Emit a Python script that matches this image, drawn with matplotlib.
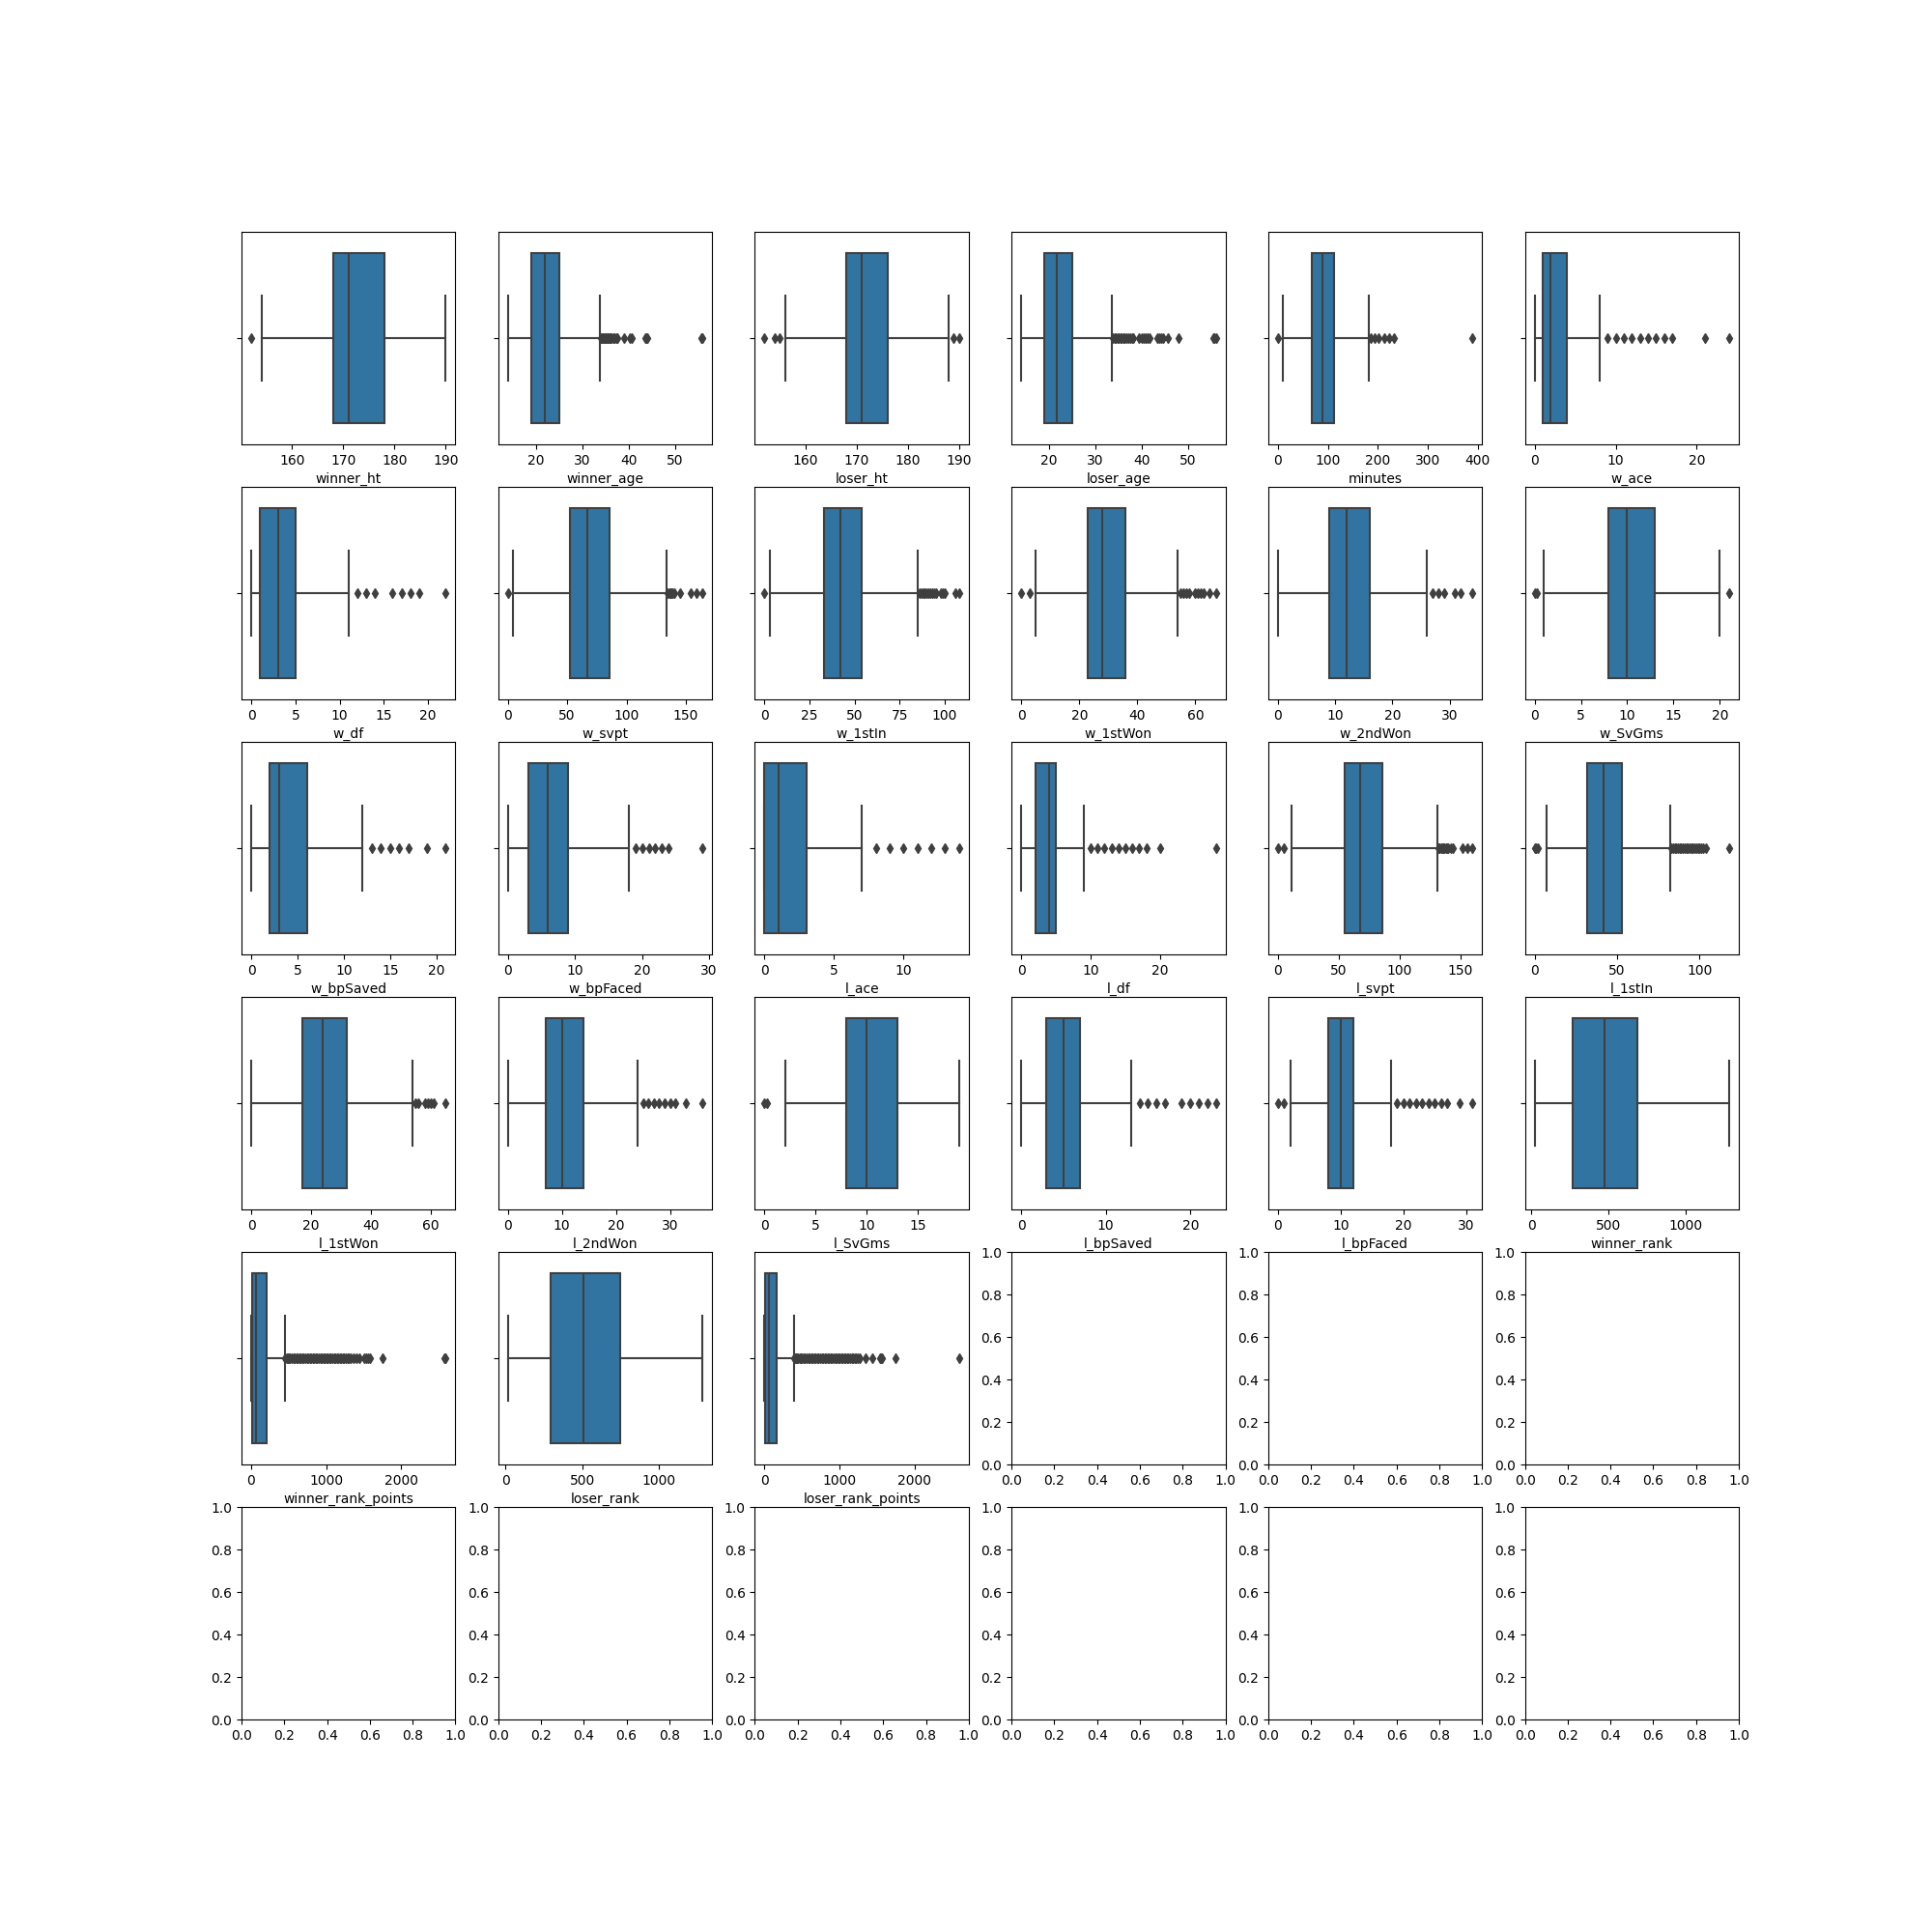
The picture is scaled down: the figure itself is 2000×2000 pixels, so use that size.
import matplotlib
matplotlib.use('Agg')
import matplotlib.pyplot as plt

# Columns shown as horizontal boxplots (summary values)
columns = ['winner_ht', 'winner_age', 'loser_ht', 'loser_age', 'minutes', 'w_ace',
           'w_df', 'w_svpt', 'w_1stIn', 'w_1stWon', 'w_2ndWon', 'w_SvGms',
           'w_bpSaved', 'w_bpFaced', 'l_ace', 'l_df', 'l_svpt', 'l_1stIn',
           'l_1stWon', 'l_2ndWon', 'l_SvGms', 'l_bpSaved', 'l_bpFaced', 'winner_rank',
           'winner_rank_points', 'loser_rank', 'loser_rank_points']

whislo = [154, 14, 156, 14, 10, 0,
          0, 4, 3, 5, 0, 1,
          0, 0, 0, 0, 11, 7,
          0, 0, 2, 0, 2, 20,
          1, 16, 1]
q1 = [168, 19, 168, 19, 68, 1,
      1, 52, 33, 23, 9, 8,
      2, 3, 0, 2, 55, 32,
      17, 7, 8, 3, 8, 266,
      15, 296, 12]
med = [171, 22, 171, 21.6, 89, 2,
       3, 67, 42, 28, 12, 10,
       3, 6, 1, 4, 68, 42,
       24, 10, 10, 5, 10, 477,
       65, 508, 58]
q3 = [178, 25, 176, 24.9, 113, 4,
      5, 86, 54, 36, 16, 13,
      6, 9, 3, 5, 86, 53,
      32, 14, 13, 7, 12, 688,
      200, 746, 165]
whishi = [190, 33.7, 188, 33.6, 181, 8,
          11, 134, 85, 54, 26, 20,
          12, 18, 7, 9, 131, 82,
          54, 24, 19, 13, 18, 1283,
          450, 1283, 390]
fliers = [
    [152],
    [34, 34.2, 34.4, 34.6, 34.8, 35, 35.2, 35.4, 35.6, 35.8, 36, 36.3, 36.6, 36.9, 37.2, 37.5,
     39, 40.2, 40.6, 43.6, 43.8, 44, 55.5, 55.8],
    [152, 154, 155, 189, 190],
    [33.8, 34.1, 34.4, 34.7, 35, 35.3, 35.6, 36, 36.3, 36.6, 37, 37.4, 37.8, 38.2, 39.3, 40, 40.4,
     40.8, 41.2, 41.6, 43.4, 43.8, 44.2, 44.6, 45.6, 47.9, 55.3, 55.6, 55.9],
    [0, 186, 193, 202, 212, 222, 232, 389],
    [9, 10, 11, 12, 13, 14, 15, 16, 17, 21, 24],
    [12, 13, 14, 16, 17, 18, 19, 22],
    [0, 135, 136, 137, 138, 139, 140, 145, 154, 159, 164],
    [0, 86, 87, 88, 89, 90, 91, 92, 93, 94, 95, 98, 99, 100, 106, 108],
    [0, 3, 55, 56, 57, 58, 60, 61, 62, 63, 65, 67],
    [27, 28, 29, 31, 32, 34],
    [0, 0.2, 21],
    [13, 14, 15, 16, 17, 19, 21],
    [19, 20, 21, 22, 23, 24, 29],
    [8, 9, 10, 11, 12, 13, 14],
    [10, 11, 12, 13, 14, 15, 16, 17, 18, 20, 28],
    [0, 5, 132, 133, 134, 135, 136, 137, 138, 139, 140, 142, 144, 152, 156, 160],
    [0, 1, 2, 83, 84, 85, 86, 87, 88, 89, 90, 91, 92, 93, 94, 95, 96, 97, 98, 99, 100, 101, 102, 104, 118],
    [55, 56, 58, 59, 60, 61, 65],
    [25, 26, 27, 28, 29, 30, 31, 33, 36],
    [0, 0.2],
    [14, 15, 16, 17, 19, 20, 21, 22, 23],
    [0, 1, 19, 20, 21, 22, 23, 24, 25, 26, 27, 29, 31],
    [],
    [455, 470, 485, 500, 520, 540, 560, 580, 600, 620, 640, 660, 680, 700, 720, 740, 760, 780,
     800, 820, 840, 860, 880, 900, 920, 940, 960, 980, 1000, 1020, 1040, 1060, 1080, 1100,
     1120, 1140, 1160, 1180, 1200, 1220, 1240, 1260, 1280, 1300, 1330, 1360, 1400, 1440,
     1500, 1530, 1560, 1580, 1750, 2577, 2590],
    [],
    [392, 405, 420, 435, 450, 465, 480, 500, 520, 540, 560, 580, 600, 620, 640, 660, 680, 700,
     720, 740, 760, 780, 800, 820, 840, 860, 880, 900, 920, 940, 960, 980, 1000, 1020, 1040,
     1060, 1080, 1100, 1120, 1140, 1160, 1180, 1200, 1220, 1240, 1270, 1350, 1436, 1540,
     1555, 1567, 1750, 2590],
]

box_color = '#3274a1'
gray = '#3f3f3f'

fig, axes = plt.subplots(6, 6, figsize=(20, 20))
axes = axes.flatten()

# only the first 27 panels carry a boxplot, the rest stay empty
for i, col in enumerate(columns):
    ax = axes[i]
    stats = [{
        'whislo': whislo[i], 'q1': q1[i], 'med': med[i], 'q3': q3[i],
        'whishi': whishi[i], 'fliers': fliers[i], 'label': '',
    }]
    ax.bxp(stats, positions=[0], widths=0.8, orientation='horizontal',
           patch_artist=True, manage_ticks=False,
           boxprops=dict(facecolor=box_color, edgecolor=gray, linewidth=1.5),
           whiskerprops=dict(color=gray, linewidth=1.5),
           capprops=dict(color=gray, linewidth=1.5),
           medianprops=dict(color=gray, linewidth=1.5),
           flierprops=dict(marker='d', markerfacecolor=gray, markeredgecolor=gray,
                           markersize=5, linestyle='none'))
    ax.set_ylim(0.5, -0.5)
    ax.set_yticks([0])
    ax.set_yticklabels([''])
    ax.set_xlabel(col)

plt.savefig('out.png', dpi=100)
